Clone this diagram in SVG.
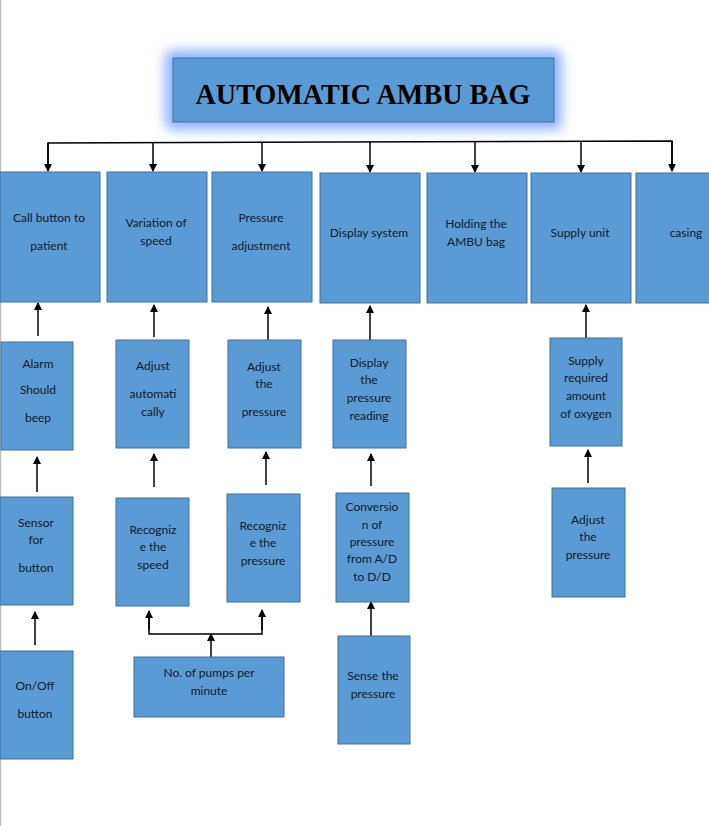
<svg xmlns="http://www.w3.org/2000/svg" width="709" height="826" viewBox="0 0 709 826">
<defs>
<marker id="ah" markerUnits="userSpaceOnUse" markerWidth="8" markerHeight="9" refX="7" refY="4" orient="auto">
<path d="M0,0 L8,4 L0,8 Z" fill="#000"/>
</marker>
<filter id="glow" x="-20%" y="-60%" width="140%" height="220%">
<feGaussianBlur stdDeviation="6"/>
</filter>
<style>
.box{fill:#5b9bd5;stroke:#41719c;stroke-width:1}
.t{font-family:Lato,"Open Sans","Liberation Sans",sans-serif;font-size:12px;fill:#0e1a2b;text-anchor:middle}
.c{stroke:#000;stroke-width:1.5;fill:none}
.cm{stroke:#000;stroke-width:1.5;fill:none;marker-end:url(#ah)}
.title{font-family:"Liberation Serif","DejaVu Serif",serif;font-weight:bold;font-size:29px;fill:#000;text-anchor:middle}
</style>
</defs>
<rect width="709" height="826" fill="#fff"/>
<line x1="0.5" y1="0" x2="0.5" y2="826" stroke="#bfbfbf" stroke-width="1.5"/>

<g id="title">
<rect x="165" y="50" width="397" height="80" rx="8" fill="#8fb3ff" filter="url(#glow)"/>
<rect class="box" x="173" y="58" width="381" height="64"/>
<text class="title" x="363" y="104" textLength="335" lengthAdjust="spacingAndGlyphs">AUTOMATIC AMBU BAG</text>
</g>

<g id="connectors">
<polyline class="c" points="48,171 48,143 672,141 672,169"/>
<line class="cm" x1="48" y1="143" x2="48" y2="171"/>
<line class="cm" x1="153" y1="143" x2="153" y2="171"/>
<line class="cm" x1="262" y1="142" x2="262" y2="171"/>
<line class="cm" x1="370" y1="142" x2="370" y2="172"/>
<line class="cm" x1="475" y1="142" x2="475" y2="172"/>
<line class="cm" x1="581" y1="142" x2="581" y2="172"/>
<line class="cm" x1="672" y1="141" x2="672" y2="171"/>

<line class="cm" x1="38" y1="336" x2="38" y2="303"/>
<line class="cm" x1="154" y1="337" x2="154" y2="305"/>
<line class="cm" x1="268" y1="340" x2="268" y2="307"/>
<line class="cm" x1="370" y1="340" x2="370" y2="306"/>
<line class="cm" x1="586" y1="338" x2="586" y2="305"/>

<line class="cm" x1="37" y1="492" x2="37" y2="457"/>
<line class="cm" x1="154" y1="487" x2="154" y2="454"/>
<line class="cm" x1="266" y1="485" x2="266" y2="452"/>
<line class="cm" x1="371" y1="486" x2="371" y2="454"/>
<line class="cm" x1="588" y1="483" x2="588" y2="450"/>

<line class="cm" x1="35" y1="645" x2="35" y2="612"/>
<line class="cm" x1="371" y1="636" x2="371" y2="602"/>

<line class="cm" x1="211" y1="657" x2="211" y2="634"/>
<polyline class="c" points="149,613 149,634 262,634 262,612"/>
<line class="cm" x1="149" y1="630" x2="149" y2="611"/>
<line class="cm" x1="262" y1="630" x2="262" y2="610"/>
</g>

<g id="n-call"><rect class="box" x="0" y="172" width="100" height="130"/>
<text class="t" x="49" y="222">Call button to</text><text class="t" x="49" y="250">patient</text></g>
<g id="n-variation"><rect class="box" x="107" y="172" width="100" height="130"/>
<text class="t" x="156" y="227">Variation of</text><text class="t" x="156" y="245">speed</text></g>
<g id="n-pressure"><rect class="box" x="212" y="172" width="100" height="130"/>
<text class="t" x="261" y="222">Pressure</text><text class="t" x="261" y="250">adjustment</text></g>
<g id="n-display"><rect class="box" x="320" y="173" width="100" height="130"/>
<text class="t" x="369" y="237">Display system</text></g>
<g id="n-holding"><rect class="box" x="427" y="173" width="100" height="130"/>
<text class="t" x="476" y="228">Holding the</text><text class="t" x="476" y="246">AMBU bag</text></g>
<g id="n-supply"><rect class="box" x="531" y="173" width="100" height="130"/>
<text class="t" x="580" y="237">Supply unit</text></g>
<g id="n-casing"><rect class="box" x="636" y="173" width="80" height="130"/>
<text class="t" x="686" y="237">casing</text></g>

<g id="n-alarm"><rect class="box" x="1" y="342" width="72" height="108"/>
<text class="t" x="38" y="368">Alarm</text><text class="t" x="38" y="394">Should</text><text class="t" x="38" y="422">beep</text></g>
<g id="n-adjauto"><rect class="box" x="116" y="340" width="73" height="108"/>
<text class="t" x="153" y="370">Adjust</text><text class="t" x="153" y="398">automati</text><text class="t" x="153" y="416">cally</text></g>
<g id="n-adjpress"><rect class="box" x="228" y="340" width="73" height="108"/>
<text class="t" x="264" y="371">Adjust</text><text class="t" x="264" y="388">the</text><text class="t" x="264" y="416">pressure</text></g>
<g id="n-dispread"><rect class="box" x="333" y="340" width="73" height="108"/>
<text class="t" x="369" y="367">Display</text><text class="t" x="369" y="384">the</text><text class="t" x="369" y="402">pressure</text><text class="t" x="369" y="420">reading</text></g>
<g id="n-supplyreq"><rect class="box" x="550" y="338" width="72" height="108"/>
<text class="t" x="586" y="365">Supply</text><text class="t" x="586" y="382">required</text><text class="t" x="586" y="400">amount</text><text class="t" x="586" y="418">of oxygen</text></g>

<g id="n-sensor"><rect class="box" x="0" y="497" width="73" height="108"/>
<text class="t" x="36" y="527">Sensor</text><text class="t" x="36" y="544">for</text><text class="t" x="36" y="572">button</text></g>
<g id="n-recspeed"><rect class="box" x="116" y="498" width="73" height="108"/>
<text class="t" x="153" y="534">Recogniz</text><text class="t" x="153" y="551">e the</text><text class="t" x="153" y="569">speed</text></g>
<g id="n-recpress"><rect class="box" x="227" y="494" width="73" height="108"/>
<text class="t" x="263" y="530">Recogniz</text><text class="t" x="263" y="547">e the</text><text class="t" x="263" y="565">pressure</text></g>
<g id="n-conversion"><rect class="box" x="336" y="493" width="73" height="109"/>
<text class="t" x="372" y="511">Conversio</text><text class="t" x="372" y="529">n of</text><text class="t" x="372" y="546">pressure</text><text class="t" x="372" y="563">from A/D</text><text class="t" x="372" y="581">to D/D</text></g>
<g id="n-adjpress2"><rect class="box" x="552" y="488" width="73" height="109"/>
<text class="t" x="588" y="524">Adjust</text><text class="t" x="588" y="541">the</text><text class="t" x="588" y="559">pressure</text></g>

<g id="n-onoff"><rect class="box" x="0" y="651" width="73" height="108"/>
<text class="t" x="35" y="690">On/Off</text><text class="t" x="35" y="718">button</text></g>
<g id="n-pumps"><rect class="box" x="134" y="657" width="150" height="60"/>
<text class="t" x="209" y="677">No. of pumps per</text><text class="t" x="209" y="695">minute</text></g>
<g id="n-sense"><rect class="box" x="338" y="636" width="72" height="108"/>
<text class="t" x="373" y="680">Sense the</text><text class="t" x="373" y="698">pressure</text></g>
</svg>
